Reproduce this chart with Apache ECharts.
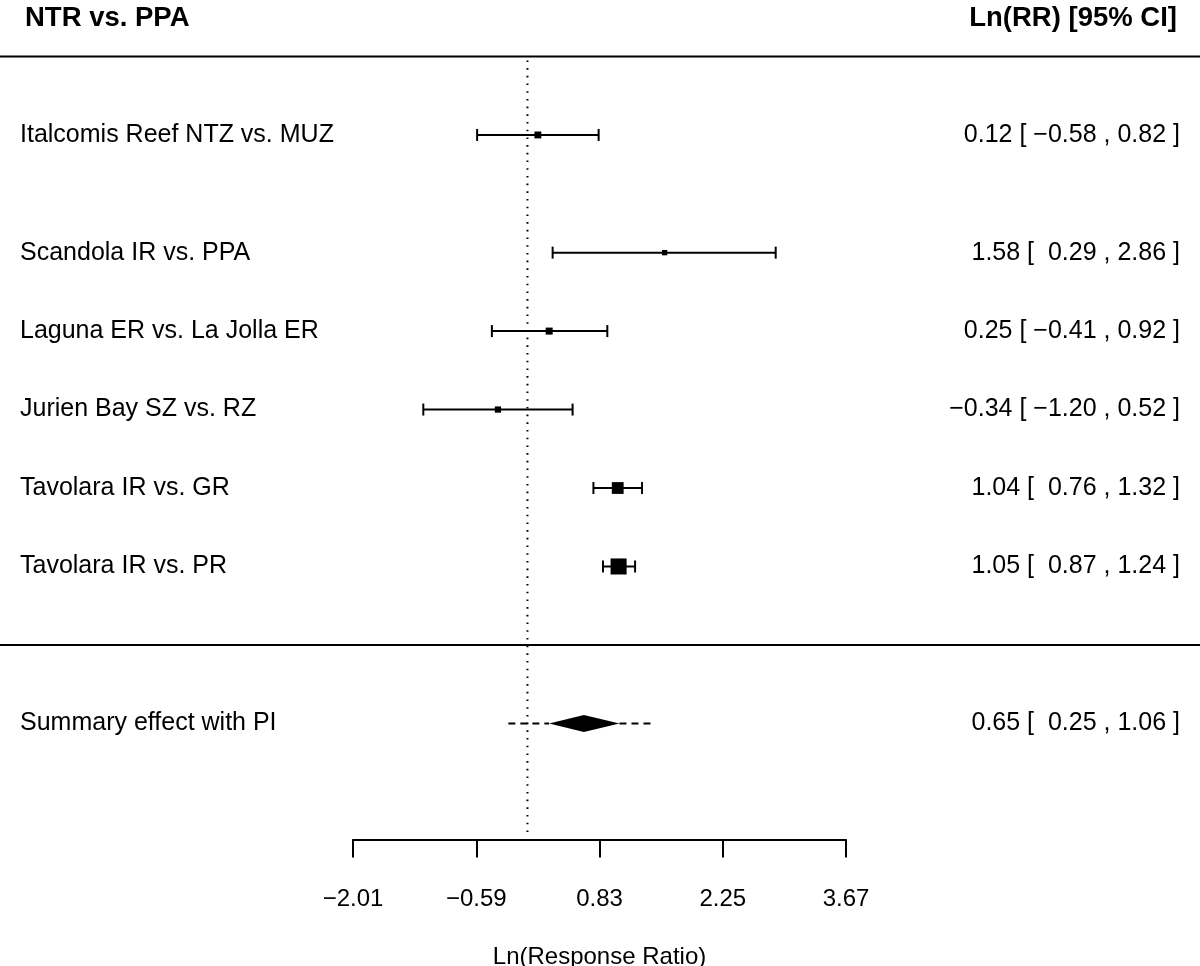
<!DOCTYPE html>
<html>
<head>
<meta charset="utf-8">
<script src="https://cdn.jsdelivr.net/npm/echarts@6/dist/echarts.min.js"></script>
<style>html,body{margin:0;padding:0;background:#fff}#c{width:1200px;height:966px}</style>
</head>
<body>
<div id="c"></div>
<script>
// ---- data ----
const studyLabels = ['Italcomis Reef NTZ vs. MUZ','Scandola IR vs. PPA','Laguna ER vs. La Jolla ER','Jurien Bay SZ vs. RZ','Tavolara IR vs. GR','Tavolara IR vs. PR'];
const studyRows = [6.5, 5, 4, 3, 2, 1];
const estimates = [0.12, 1.58, 0.25, -0.34, 1.04, 1.05];
const ciLower = [-0.58, 0.29, -0.41, -1.20, 0.76, 0.87];
const ciUpper = [0.82, 2.86, 0.92, 0.52, 1.32, 1.24];
const summaryLabel = 'Summary effect with PI';
const summaryRow = -1;
const summaryEstimate = 0.65;
const summaryCI = [0.25, 1.06];
const summaryPI = [-0.22, 1.43];
const xTicks = [-2.01, -0.59, 0.83, 2.25, 3.67];
const headerLeft = 'NTR vs. PPA';
const headerRight = 'Ln(RR) [95% CI]';
const xAxisName = 'Ln(Response Ratio)';

// ---- helpers ----
const FONT = '"Liberation Sans", Arial, Helvetica, sans-serif';
const fmt = v => v.toFixed(2).replace('-', '\u2212');
const padLow = v => (v < 0 ? '' : ' ') + fmt(v);
const ciText = (e, l, u) => fmt(e) + ' [ ' + padLow(l) + ' , ' + fmt(u) + ' ]';

// metafor-style point sizes from precision
const sei = ciLower.map((l, i) => (ciUpper[i] - l) / 3.92);
const wi = sei.map(s => 1 / s);
const wmin = Math.min(...wi), wmax = Math.max(...wi);
const psize = wi.map(w => 0.5 + (w - wmin) / (wmax - wmin));
const PX_PER_PSIZE = 10.7;

const studyData = studyLabels.map((lab, i) => [estimates[i], studyRows[i], ciLower[i], ciUpper[i], psize[i]]);

const chart = echarts.init(document.getElementById('c'), null, {renderer: 'canvas'});

const option = {
  animation: false,
  backgroundColor: '#fff',
  grid: {left: 353, right: 354, top: 56.5, bottom: 126.5, containLabel: false, outerBoundsMode: 'none'},
  xAxis: {
    type: 'value', min: xTicks[0], max: xTicks[xTicks.length - 1],
    splitLine: {show: false},
    axisLine: {show: true, onZero: false, lineStyle: {color: '#000', width: 2}},
    axisTick: {show: true, length: 18, lineStyle: {color: '#000', width: 2}, customValues: xTicks},
    axisLabel: {customValues: xTicks, formatter: v => fmt(v), color: '#000', fontSize: 24, fontFamily: FONT, margin: 48},
    name: xAxisName, nameLocation: 'middle', nameGap: 106,
    nameTextStyle: {color: '#000', fontSize: 24, fontFamily: FONT}
  },
  yAxis: {type: 'value', min: -2.48, max: 7.5, show: false},
  series: [
    // frame: horizontal rules, reference line, headers
    {
      type: 'custom', clip: false, silent: true, data: [[0, 0]],
      renderItem: (params, api) => {
        const W = api.getWidth();
        const top = api.coord([0, 7.5]);
        const mid = api.coord([0, 0]);
        const refTop = api.coord([0, 7.45]);
        const refBot = api.coord([0, -2.42]);
        const head = api.coord([0, 8]);
        return {type: 'group', children: [
          {type: 'line', shape: {x1: 0, y1: top[1], x2: W, y2: top[1]}, style: {stroke: '#000', lineWidth: 2}},
          {type: 'line', shape: {x1: 0, y1: mid[1], x2: W, y2: mid[1]}, style: {stroke: '#000', lineWidth: 2}},
          {type: 'line', shape: {x1: refTop[0], y1: refTop[1], x2: refBot[0], y2: refBot[1]}, style: {stroke: '#000', lineWidth: 2, lineDash: [1.6, 6.1]}},
          {type: 'text', x: 25, y: head[1] + 1, style: {text: headerLeft, fill: '#000', font: 'bold 27.5px ' + FONT, textAlign: 'left', textVerticalAlign: 'middle', verticalAlign: 'middle'}},
          {type: 'text', x: 1177, y: head[1] + 1, style: {text: headerRight, fill: '#000', font: 'bold 27.5px ' + FONT, textAlign: 'right', textVerticalAlign: 'middle', verticalAlign: 'middle'}}
        ]};
      }
    },
    // studies
    {
      type: 'custom', clip: false, silent: true, data: studyData,
      encode: {x: 0, y: 1},
      renderItem: (params, api) => {
        const i = params.dataIndex;
        const p = api.coord([api.value(0), api.value(1)]);
        const l = api.coord([api.value(2), api.value(1)]);
        const u = api.coord([api.value(3), api.value(1)]);
        const s = api.value(4) * PX_PER_PSIZE;
        const cap = 6;
        return {type: 'group', children: [
          {type: 'line', shape: {x1: l[0], y1: p[1], x2: u[0], y2: p[1]}, style: {stroke: '#000', lineWidth: 2}},
          {type: 'line', shape: {x1: l[0], y1: p[1] - cap, x2: l[0], y2: p[1] + cap}, style: {stroke: '#000', lineWidth: 2}},
          {type: 'line', shape: {x1: u[0], y1: p[1] - cap, x2: u[0], y2: p[1] + cap}, style: {stroke: '#000', lineWidth: 2}},
          {type: 'rect', shape: {x: p[0] - s / 2, y: p[1] - s / 2, width: s, height: s}, style: {fill: '#000'}},
          {type: 'text', x: 20, y: p[1], style: {text: studyLabels[i], fill: '#000', font: '25px ' + FONT, textAlign: 'left', verticalAlign: 'middle', textVerticalAlign: 'middle'}},
          {type: 'text', x: 1180, y: p[1], style: {text: ciText(estimates[i], ciLower[i], ciUpper[i]), fill: '#000', font: '25px ' + FONT, textAlign: 'right', verticalAlign: 'middle', textVerticalAlign: 'middle'}}
        ]};
      }
    },
    // summary
    {
      type: 'custom', clip: false, silent: true,
      data: [[summaryEstimate, summaryRow, summaryCI[0], summaryCI[1], summaryPI[0], summaryPI[1]]],
      encode: {x: 0, y: 1},
      renderItem: (params, api) => {
        const y = api.value(1);
        const e = api.coord([api.value(0), y]);
        const l = api.coord([api.value(2), y]);
        const u = api.coord([api.value(3), y]);
        const pl = api.coord([api.value(4), y]);
        const pu = api.coord([api.value(5), y]);
        const h = 8.5;
        return {type: 'group', children: [
          {type: 'line', shape: {x1: pl[0], y1: e[1], x2: l[0], y2: e[1]}, style: {stroke: '#000', lineWidth: 2, lineDash: [7, 5]}},
          {type: 'line', shape: {x1: u[0], y1: e[1], x2: pu[0], y2: e[1]}, style: {stroke: '#000', lineWidth: 2, lineDash: [7, 5]}},
          {type: 'polygon', shape: {points: [[l[0], e[1]], [e[0], e[1] - h], [u[0], e[1]], [e[0], e[1] + h]]}, style: {fill: '#000'}},
          {type: 'text', x: 20, y: e[1], style: {text: summaryLabel, fill: '#000', font: '25px ' + FONT, textAlign: 'left', verticalAlign: 'middle', textVerticalAlign: 'middle'}},
          {type: 'text', x: 1180, y: e[1], style: {text: ciText(summaryEstimate, summaryCI[0], summaryCI[1]), fill: '#000', font: '25px ' + FONT, textAlign: 'right', verticalAlign: 'middle', textVerticalAlign: 'middle'}}
        ]};
      }
    }
  ]
};
chart.setOption(option);
</script>
</body>
</html>
